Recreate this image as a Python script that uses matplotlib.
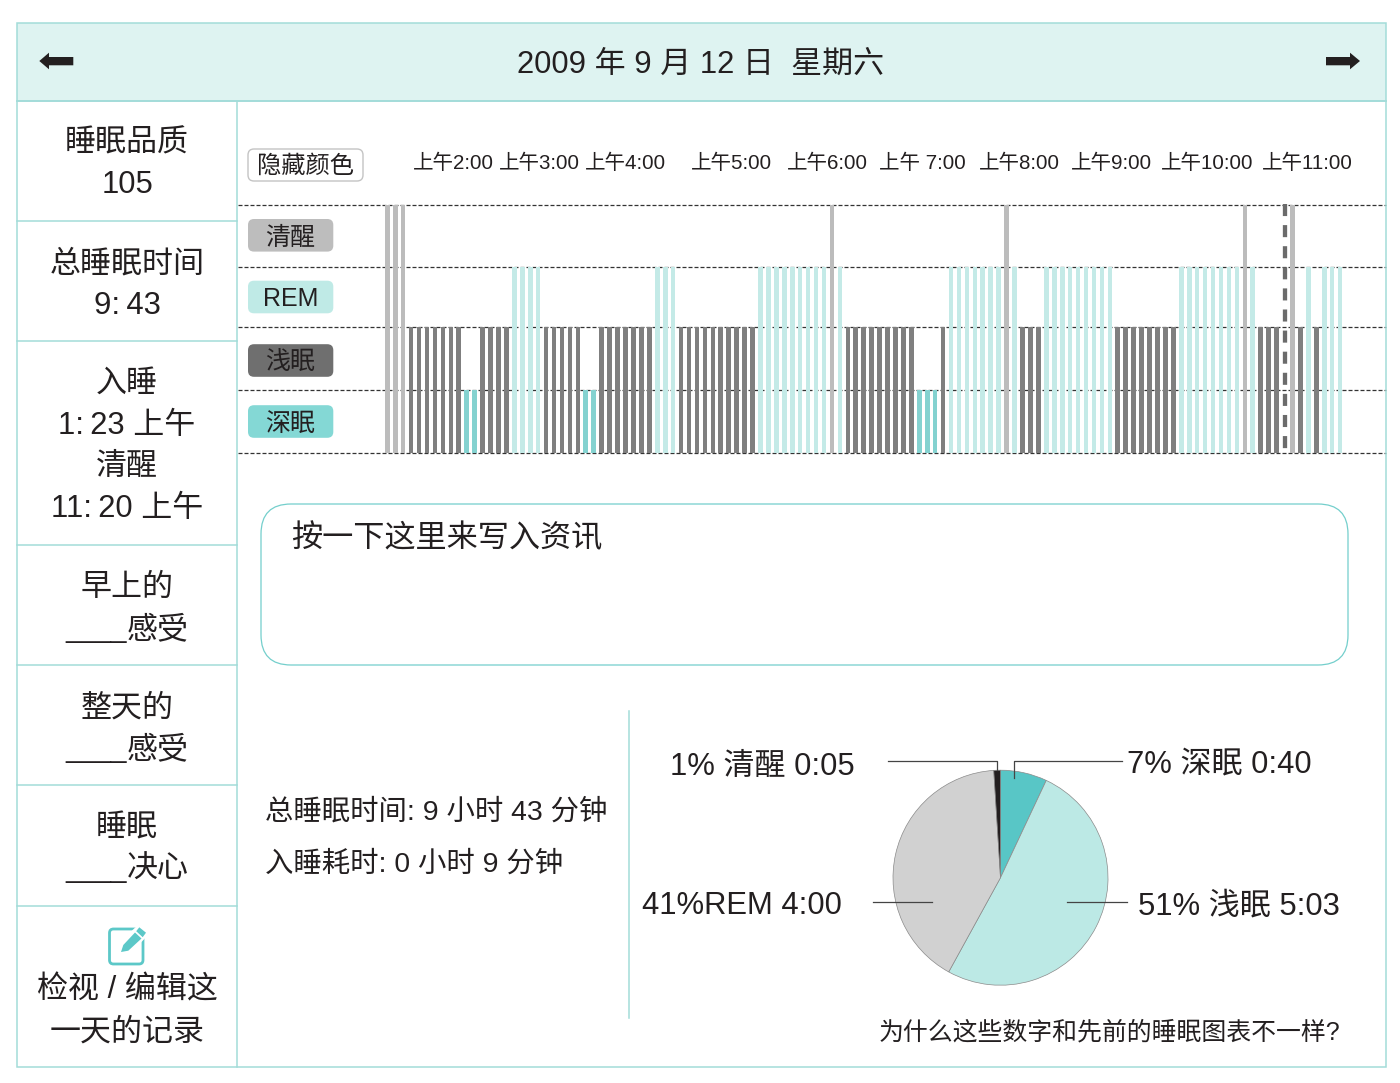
#!/usr/bin/env python
# coding=utf-8

import matplotlib
matplotlib.use("Agg")
import matplotlib.pyplot as plt
from matplotlib.patches import FancyBboxPatch, Polygon, Rectangle

plt.rcParams['font.family'] = ['Liberation Sans', 'Noto Sans CJK SC', 'DejaVu Sans']

W, H = 1400, 1083
TEAL = "#a3dcd9"
INK = "#231f20"

date_title = "2009 年 9 月 12 日  星期六"

side_labels = ["睡眠品质", "105", "总睡眠时间", "9:\u200943", "入睡", "1:\u200923 上午", "清醒", "11:\u200920 上午",
               "早上的", "____感受", "整天的", "____感受", "睡眠", "____决心", "检视 / 编辑这", "一天的记录"]
side_y = [140, 182, 261, 303, 381, 423, 464, 506, 585, 627, 705, 747, 825, 867, 987, 1029]
side_lines = [221, 341, 545, 665, 785, 906]

hour_labels = ["上午2:00", "上午3:00", "上午4:00", "上午5:00", "上午6:00",
               "上午 7:00", "上午8:00", "上午9:00", "上午10:00", "上午11:00"]
hour_left = [413, 499, 585, 691, 787, 879, 979, 1071, 1161, 1262]

stage_names = ["深眠", "浅眠", "REM", "清醒"]
stage_colors = ["#84d2d0", "#7f7f7f", "#c4eae7", "#bcbcbc"]
tag_colors = ["#84d8d5", "#6f6f6f", "#bfeae6", "#bdbdbd"]
tag_y = [421.5, 360.5, 297, 235.3]

# one value per time slot: 1 deep, 2 light, 3 REM, 4 awake, 0 nothing recorded
stages = [
    4, 4, 4, 2, 2, 2, 2, 2, 2, 2, 1, 1, 2, 2, 2, 2, 3, 3, 3, 3,
    2, 2, 2, 2, 2, 1, 1, 2, 2, 2, 2, 2, 2, 2, 3, 3, 3, 2, 2, 2,
    2, 2, 2, 2, 2, 2, 2, 3, 3, 3, 3, 3, 3, 3, 3, 3, 4, 3, 2, 2,
    2, 2, 2, 2, 2, 2, 2, 1, 1, 1, 2, 3, 3, 3, 3, 3, 3, 3, 4, 3,
    2, 2, 2, 3, 3, 3, 3, 3, 3, 3, 3, 3, 2, 2, 2, 2, 2, 2, 2, 2,
    3, 3, 3, 3, 3, 3, 3, 3, 4, 3, 2, 2, 2, 0, 4, 2, 3, 2, 3, 3,
    3,
]
wake_slot = 113
# height of each stage band's upper rule above the chart floor
rule_heights = [0, 62.7, 125.4, 185.4, 247.4]

pie_values = [7, 51, 41, 1]
pie_colors = ["#58c6c6", "#bce9e5", "#d1d1d1", INK]
pie_labels = ["7% 深眠 0:40", "51% 浅眠 5:03", "41%REM 4:00", "1% 清醒 0:05"]
summary = ["总睡眠时间: 9 小时 43 分钟", "入睡耗时: 0 小时 9 分钟"]


def axes_px(fig, left, top, right, bottom):
    return fig.add_axes([left / W, 1 - bottom / H, (right - left) / W, (bottom - top) / H])


def pt(px):
    return px * 72.0 / 100.0


def label(x, yc, s, size, ha="center"):
    # baseline placement keeps latin-only and CJK lines on the same centre
    bg.text(x, yc + 0.36 * size, s, fontsize=pt(size), color=INK, ha=ha, va="baseline")


fig = plt.figure(figsize=(W / 100, H / 100), dpi=100, facecolor="white")

# page layer in pixel units
bg = fig.add_axes([0, 0, 1, 1])
bg.set_xlim(0, W)
bg.set_ylim(H, 0)
bg.axis("off")

bg.add_patch(Rectangle((17, 23), 1369, 78, fc="#def3f1", ec="none"))
bg.add_patch(Rectangle((17, 23), 1369, 1044, fc="none", ec=TEAL, lw=1.1))
bg.plot([17, 1386], [101, 101], color=TEAL, lw=1.4)
bg.plot([237, 237], [101, 1067], color=TEAL, lw=1.1)
for y in side_lines:
    bg.plot([17, 237], [y, y], color=TEAL, lw=1.1)

label(701, 62, date_title, 31)

# arrows in the header
bg.add_patch(Polygon([(39.3, 61), (49, 52.7), (49, 57), (73.3, 57), (73.3, 65.3), (49, 65.3), (49, 69.3)],
                     fc=INK, ec="none"))
bg.add_patch(Polygon([(1360, 61), (1350, 52.7), (1350, 57), (1326, 57), (1326, 65.3), (1350, 65.3), (1350, 69.3)],
                     fc=INK, ec="none"))

for s, yc in zip(side_labels, side_y):
    if s.startswith("____"):
        label(127, yc, "____", 27.5, ha="right")
        label(127, yc, s[4:], 31, ha="left")
    else:
        label(127, yc, s, 31)

# note icon
bg.add_patch(FancyBboxPatch((109.5, 929), 33.5, 35, boxstyle="round,pad=0,rounding_size=4",
                            fc="white", ec="#5cc8c8", lw=2.0))
bg.add_patch(Polygon([(118, 955), (121, 941), (139, 924), (150, 933), (131, 953)], fc="white", ec="none"))
bg.add_patch(Polygon([(121, 952), (123.3, 945), (135, 932.5), (141.5, 938.5), (128.3, 950.7)],
                     fc="#5cc8c8", ec="none"))
bg.add_patch(Polygon([(136.2, 931.2), (139.3, 927.3), (146, 932.7), (142.7, 937.2)], fc="#5cc8c8", ec="none"))

# "hide colours" button
bg.add_patch(FancyBboxPatch((248, 149), 115, 32, boxstyle="round,pad=0,rounding_size=6",
                            fc="white", ec="#c4c4c4", lw=1.0))
label(305.5, 164, "隐藏颜色", 24.3)

for s, x in zip(hour_labels, hour_left):
    label(x, 162, s, 20.5, ha="left")

# sleep stage bars, heights are measured up from the bottom rule
ax = axes_px(fig, 238, 205.3, 1386, 452.7)
ax.patch.set_alpha(0)
slot_px = 7.94
x0, x1 = (238 - 387.3) / slot_px, (1386 - 387.3) / slot_px
ax.set_xlim(x0, x1)
ax.set_ylim(0, rule_heights[-1])
ax.axis("off")
for h in rule_heights:
    ax.plot([x0, x1], [h, h], color="#333333", lw=0.9, ls=(0, (3.2, 1.6)), zorder=1, clip_on=False)
slots = list(range(len(stages)))
heights = [rule_heights[s] for s in stages]
ax.bar(slots, heights, width=0.58, color=[stage_colors[s - 1] if s else "none" for s in stages],
       zorder=2, clip_on=False)
ax.plot([wake_slot, wake_slot], [rule_heights[-1] + 1.5, 0], color="#6b6b6b", lw=3.1,
        ls=(0, (2.8, 2.1)), zorder=4, clip_on=False)

# stage tags to the left of the bars
for name, color, yc in zip(stage_names, tag_colors, tag_y):
    bg.add_patch(FancyBboxPatch((248, yc - 16.3), 85.3, 32.6, boxstyle="round,pad=0,rounding_size=6",
                                fc=color, ec="none"))
    label(290.5, yc + 0.5, name, 25)

# notes box
bg.add_patch(FancyBboxPatch((261, 504), 1087, 161, boxstyle="round,pad=0,rounding_size=30",
                            fc="white", ec="#74cfcc", lw=0.9))
label(291, 536, "按一下这里来写入资讯", 31.2, ha="left")

for s, y in zip(summary, [809, 861]):
    label(265, y, s, 28.4, ha="left")

bg.plot([629, 629], [711, 1018], color=TEAL, lw=1.1)

# sleep breakdown pie
cx, cy, r = 1000.5, 877.7, 107.5
pie_ax = axes_px(fig, cx - r - 2, cy - r - 2, cx + r + 2, cy + r + 2)
pie_ax.pie(pie_values, colors=pie_colors, startangle=90, counterclock=False, radius=1,
           wedgeprops={"edgecolor": "#8a8a8a", "linewidth": 0.5})
pie_ax.set_xlim(-(r + 2) / r, (r + 2) / r)
pie_ax.set_ylim(-(r + 2) / r, (r + 2) / r)

leader = dict(color="#444444", lw=0.9)
bg.plot([1122, 1013.5, 1013.5], [760.7, 760.7, 778], zorder=5, **leader)
bg.plot([888, 996.7, 996.7], [760.7, 760.7, 770], zorder=5, **leader)
bg.plot([872.7, 931.7], [901.7, 901.7], zorder=5, **leader)
bg.plot([1067, 1126.7], [901.7, 901.7], zorder=5, **leader)

bg.set_zorder(1)
bg.patch.set_alpha(0)
label(1127, 761, pie_labels[0], 31, ha="left")
label(1138, 903, pie_labels[1], 31, ha="left")
label(642, 903, pie_labels[2], 31, ha="left")
label(670, 764, pie_labels[3], 31, ha="left")
label(1340, 1031, "为什么这些数字和先前的睡眠图表不一样?", 24.9, ha="right")

fig.savefig("out.png", dpi=100)
